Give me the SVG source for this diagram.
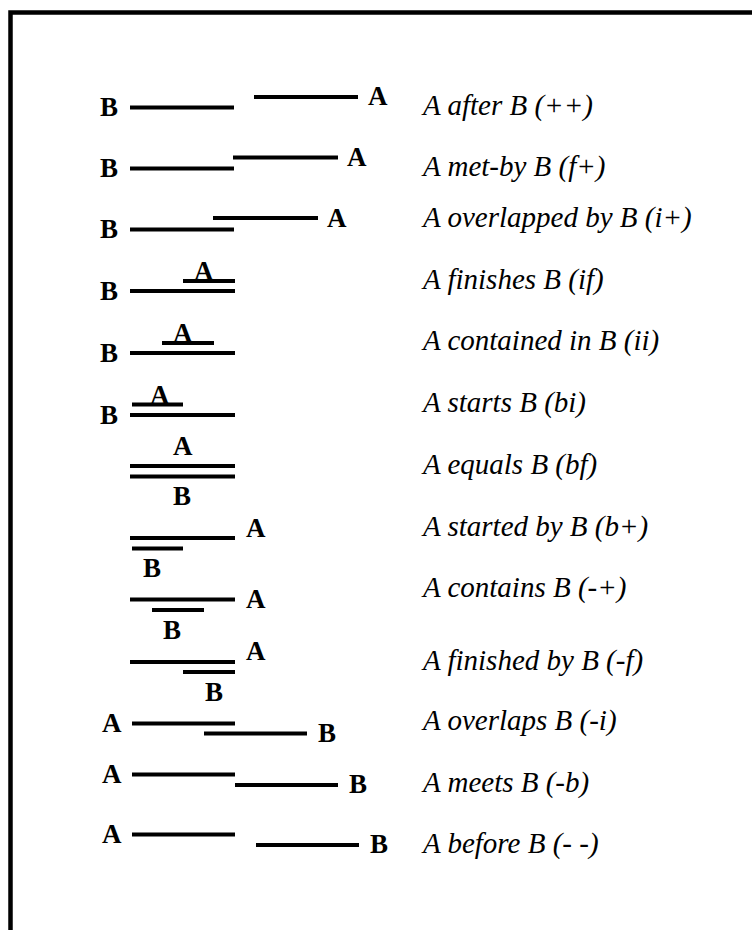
<svg xmlns="http://www.w3.org/2000/svg" width="752" height="930" viewBox="0 0 752 930">
<style>
.iv{stroke:#000;stroke-width:4.2;stroke-linecap:butt;fill:none}
.lb{font-family:"Liberation Serif","Times New Roman",serif;font-weight:bold;font-size:27px;fill:#000}
.ds{font-family:"Liberation Serif","Times New Roman",serif;font-style:italic;font-size:29px;fill:#000}
.fr{stroke:#000;stroke-width:4.5;fill:none}
</style>
<rect width="752" height="930" fill="#fff"/>
<g id="frame">
<path class="fr" d="M10.5 930 V12.5 H752"/>
</g>
<g id="after">
<text class="lb" x="100" y="116">B</text>
<line class="iv" x1="130" y1="107.5" x2="234" y2="107.5"/>
<line class="iv" x1="254" y1="97" x2="358" y2="97"/>
<text class="lb" x="368" y="105">A</text>
<text class="ds" x="423" y="115">A after B (++)</text>
</g>
<g id="met-by">
<text class="lb" x="100" y="177">B</text>
<line class="iv" x1="130" y1="168.5" x2="234" y2="168.5"/>
<line class="iv" x1="233" y1="157.5" x2="338" y2="157.5"/>
<text class="lb" x="347" y="166">A</text>
<text class="ds" x="423" y="176">A met-by B (f+)</text>
</g>
<g id="overlapped-by">
<text class="lb" x="100" y="238">B</text>
<line class="iv" x1="130" y1="229.5" x2="234" y2="229.5"/>
<line class="iv" x1="213" y1="218" x2="318" y2="218"/>
<text class="lb" x="327" y="227">A</text>
<text class="ds" x="423" y="227">A overlapped by B (i+)</text>
</g>
<g id="finishes">
<text class="lb" x="100" y="300">B</text>
<line class="iv" x1="130" y1="291" x2="235" y2="291"/>
<text class="lb" x="194" y="280">A</text>
<line class="iv" x1="183" y1="281" x2="235" y2="281"/>
<text class="ds" x="423" y="289">A finishes B (if)</text>
</g>
<g id="contained-in">
<text class="lb" x="100" y="362">B</text>
<line class="iv" x1="130" y1="353" x2="235" y2="353"/>
<text class="lb" x="173" y="342">A</text>
<line class="iv" x1="162" y1="343" x2="214" y2="343"/>
<text class="ds" x="423" y="350">A contained in B (ii)</text>
</g>
<g id="starts">
<text class="lb" x="100" y="424">B</text>
<line class="iv" x1="130" y1="415" x2="235" y2="415"/>
<text class="lb" x="150" y="404">A</text>
<line class="iv" x1="132" y1="404.5" x2="183" y2="404.5"/>
<text class="ds" x="423" y="412">A starts B (bi)</text>
</g>
<g id="equals">
<text class="lb" x="173" y="455">A</text>
<line class="iv" x1="130" y1="466" x2="235" y2="466"/>
<line class="iv" x1="130" y1="476.5" x2="235" y2="476.5"/>
<text class="lb" x="173" y="505">B</text>
<text class="ds" x="423" y="474">A equals B (bf)</text>
</g>
<g id="started-by">
<line class="iv" x1="130" y1="538" x2="235" y2="538"/>
<text class="lb" x="246" y="537">A</text>
<line class="iv" x1="132" y1="548.5" x2="183" y2="548.5"/>
<text class="lb" x="143" y="577">B</text>
<text class="ds" x="423" y="536">A started by B (b+)</text>
</g>
<g id="contains">
<line class="iv" x1="130" y1="599.5" x2="235" y2="599.5"/>
<text class="lb" x="246" y="608">A</text>
<line class="iv" x1="152" y1="610" x2="204" y2="610"/>
<text class="lb" x="163" y="639">B</text>
<text class="ds" x="423" y="597">A contains B (-+)</text>
</g>
<g id="finished-by">
<line class="iv" x1="130" y1="662" x2="235" y2="662"/>
<text class="lb" x="246" y="660">A</text>
<line class="iv" x1="183" y1="672" x2="235" y2="672"/>
<text class="lb" x="205" y="701">B</text>
<text class="ds" x="423" y="670">A finished by B (-f)</text>
</g>
<g id="overlaps">
<text class="lb" x="102" y="732">A</text>
<line class="iv" x1="132" y1="723.5" x2="235" y2="723.5"/>
<line class="iv" x1="204" y1="733.5" x2="307" y2="733.5"/>
<text class="lb" x="318" y="742">B</text>
<text class="ds" x="423" y="730">A overlaps B (-i)</text>
</g>
<g id="meets">
<text class="lb" x="102" y="783">A</text>
<line class="iv" x1="132" y1="774.5" x2="235" y2="774.5"/>
<line class="iv" x1="235" y1="785" x2="338" y2="785"/>
<text class="lb" x="349" y="793">B</text>
<text class="ds" x="423" y="792">A meets B (-b)</text>
</g>
<g id="before">
<text class="lb" x="102" y="843">A</text>
<line class="iv" x1="132" y1="834.5" x2="235" y2="834.5"/>
<line class="iv" x1="256" y1="845" x2="359" y2="845"/>
<text class="lb" x="370" y="853">B</text>
<text class="ds" x="423" y="853">A before B (- -)</text>
</g>
</svg>
